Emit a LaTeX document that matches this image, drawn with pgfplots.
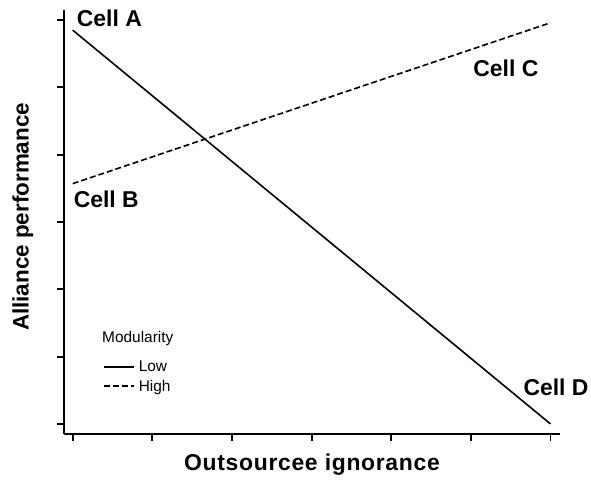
\documentclass[border=0pt]{standalone}
\usepackage{fontspec}
\setmainfont{Liberation Sans}
\newfontfamily\xlabfont[LetterSpace=3]{Liberation Sans}
\usepackage{pgfplots}
\pgfplotsset{compat=1.18}
\begin{document}
\begin{tikzpicture}
\begin{axis}[
  at={(0,0)}, anchor=south west,
  scale only axis,
  width=496bp, height=424bp,
  xmin=-0.11, xmax=6.12, ymin=-0.15, ymax=6.15,
  axis lines*=left,
  axis line style={line width=1.5bp},
  xtick={0,...,6}, ytick={0,...,6},
  xticklabels={}, yticklabels={},
  xtick pos=bottom, ytick pos=left,
  tick align=outside,
  major tick length=7bp,
  tick style={line width=1.8bp, black},
  clip=false,
  legend style={draw=none, fill=none, at={(rel axis cs:0.0786,0.178)}, anchor=north west,
    inner sep=0pt, row sep=3bp, column sep=2bp, font=\fontsize{15.5}{17}\selectfont,
    nodes={inner sep=2bp}},
  legend cell align=left,
  legend image code/.code={\draw[#1] (0bp,0bp) -- (30bp,0bp);},
]
\addplot[black, line width=1.6bp] coordinates {(0,5.85) (6,0)};
\addlegendentry{Low}
\addplot[black, line width=1.6bp, dash pattern=on 6bp off 3bp] coordinates {(0,3.57) (6,5.96)};
\addlegendentry{High}

\node[anchor=west, font=\fontsize{15.5}{17}\selectfont, inner sep=0pt] at (rel axis cs:0.0766,0.226) {Modularity};

\node[anchor=west, font=\fontsize{23}{25}\selectfont\bfseries, inner sep=0pt] at (axis cs:0.05,6.03) {Cell A};
\node[anchor=west, font=\fontsize{23}{25}\selectfont\bfseries, inner sep=0pt] at (axis cs:0.01,3.33) {Cell B};
\node[anchor=west, font=\fontsize{23}{25}\selectfont\bfseries, inner sep=0pt] at (axis cs:5.03,5.29) {Cell C};
\node[anchor=west, font=\fontsize{23}{25}\selectfont\bfseries, inner sep=0pt] at (axis cs:5.66,0.55) {Cell D};

\node[font=\xlabfont\fontsize{23}{25}\selectfont\bfseries, inner sep=0pt] at (rel axis cs:0.5,-0.073) {Outsourcee ignorance};
\node[rotate=90, font=\fontsize{22.5}{24}\selectfont\bfseries, inner sep=0pt] at (rel axis cs:-0.083,0.512) {Alliance performance};
\end{axis}
\pgfresetboundingbox
\path[use as bounding box] (-64bp,-49bp) rectangle (527bp,434bp);
\end{tikzpicture}
\end{document}
